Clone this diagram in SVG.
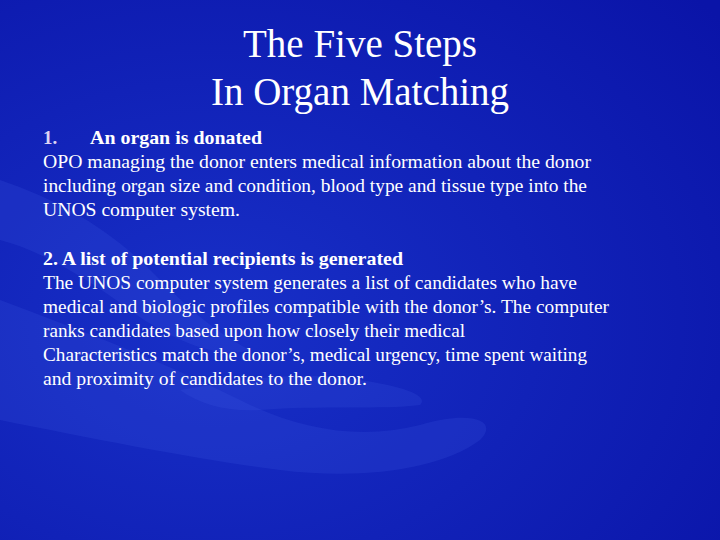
<svg xmlns="http://www.w3.org/2000/svg" width="720" height="540" viewBox="0 0 720 540">
<defs>
<radialGradient id="bg" cx="0.3" cy="0.6" r="0.9">
<stop offset="0" stop-color="#1830c8"/>
<stop offset="1" stop-color="#0a14a8"/>
</radialGradient>
<style>
.t{font-family:"Liberation Serif",serif;fill:#ffffff}
.title{font-size:39px;text-anchor:middle}
.b{font-size:19px;font-weight:bold}
.n{font-size:19px}
.hand{fill:#3a58e0;opacity:0.22}
</style>
</defs>
<rect width="720" height="540" fill="url(#bg)"/>
<g id="hands">
<path class="hand" d="M0,300 C80,330 160,360 240,400 C300,430 360,440 420,425 C470,410 500,420 480,440 C440,470 360,480 280,470 C200,460 100,440 0,420 Z"/>
<path class="hand" d="M0,180 C60,200 110,230 150,270 C180,300 210,330 250,350 C220,360 170,340 130,310 C90,280 40,250 0,240 Z"/>
<path class="hand" d="M180,390 C240,380 300,370 360,380 C400,386 430,395 420,405 C380,410 320,405 260,410 C230,412 200,405 180,390 Z"/>
</g>
<g id="title">
<text class="t title" x="360" y="57">The Five Steps</text>
<text class="t title" x="360" y="105">In Organ Matching</text>
</g>
<g id="body">
<text class="t b" x="43" y="144"><tspan fill="#ddd4f4">1.</tspan><tspan x="90" textLength="172" lengthAdjust="spacingAndGlyphs">An organ is donated</tspan></text>
<text class="t n" x="43" y="168" textLength="548" lengthAdjust="spacingAndGlyphs">OPO managing the donor enters medical information about the donor</text>
<text class="t n" x="43" y="192" textLength="544" lengthAdjust="spacingAndGlyphs">including organ size and condition, blood type and tissue type into the</text>
<text class="t n" x="43" y="216" textLength="197" lengthAdjust="spacingAndGlyphs">UNOS computer system.</text>
<text class="t b" x="43" y="265" textLength="360" lengthAdjust="spacingAndGlyphs">2. A list of potential recipients is generated</text>
<text class="t n" x="43" y="289" textLength="534" lengthAdjust="spacingAndGlyphs">The UNOS computer system generates a list of candidates who have</text>
<text class="t n" x="43" y="313" textLength="566" lengthAdjust="spacingAndGlyphs">medical and biologic profiles compatible with the donor’s. The computer</text>
<text class="t n" x="43" y="337" textLength="422" lengthAdjust="spacingAndGlyphs">ranks candidates based upon how closely their medical</text>
<text class="t n" x="43" y="361" textLength="544" lengthAdjust="spacingAndGlyphs">Characteristics match the donor’s, medical urgency, time spent waiting</text>
<text class="t n" x="43" y="385" textLength="324" lengthAdjust="spacingAndGlyphs">and proximity of candidates to the donor.</text>
</g>
</svg>
